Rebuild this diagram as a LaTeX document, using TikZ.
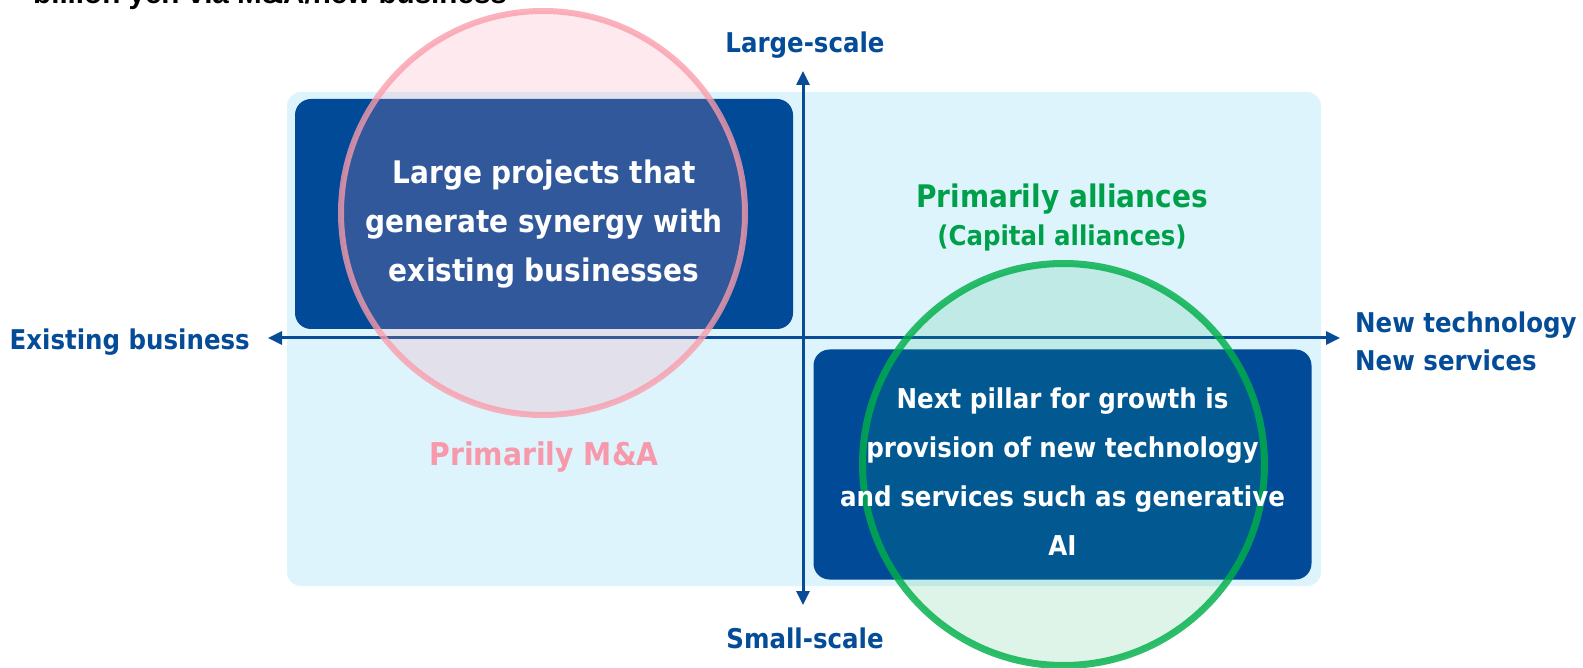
\documentclass[tikz,border=0pt]{standalone}
\usepackage{fontspec}
\usetikzlibrary{arrows.meta,calc}
\newfontfamily\labelfont{DejaVu Sans}[FakeStretch=0.9]
\newfontfamily\headfont{Liberation Sans}
\definecolor{boxblue}{RGB}{0,74,152}
\definecolor{panelblue}{RGB}{221,244,252}
\definecolor{axisblue}{RGB}{8,76,152}
\definecolor{textblue}{RGB}{4,76,152}
\definecolor{alliancegreen}{RGB}{0,160,75}
\definecolor{ringgreen}{RGB}{0,175,74}
\definecolor{fillgreen}{RGB}{20,180,100}
\definecolor{mapink}{RGB}{247,153,170}
\definecolor{ringpink}{RGB}{250,156,170}
\definecolor{fillpink}{RGB}{245,147,171}
\newcommand{\fsz}[2]{\fontsize{#1}{#2}\selectfont}
\tikzset{
  panel/.style={fill=panelblue, rounded corners=14pt, inner sep=0pt,
    minimum width=1034pt, minimum height=494pt},
  quadbox/.style={fill=boxblue, rounded corners=16pt, inner sep=0pt,
    minimum width=498pt, minimum height=230pt},
  axisline/.style={line width=3pt, draw=axisblue,
    {Triangle[length=14pt,width=13pt]}-{Triangle[length=14pt,width=13pt]}},
  axislabel/.style={text=textblue, font={\labelfont\bfseries\fsz{27.2}{38}},
    inner sep=0pt, align=left},
  bigtext/.style={text=white, font={\labelfont\bfseries\fsz{31.1}{49}},
    align=center, inner sep=0pt},
  smalltext/.style={text=white, font={\labelfont\bfseries\fsz{27.3}{49}},
    align=center, inner sep=0pt},
  pinkring/.style={draw=ringpink, draw opacity=0.78, line width=6pt,
    fill=fillpink, fill opacity=0.2},
  greenring/.style={draw=ringgreen, draw opacity=0.82, line width=7pt,
    fill=fillgreen, fill opacity=0.14},
}
\begin{document}
\begin{tikzpicture}[x=1pt, y=-1pt]
  \useasboundingbox (0,0) rectangle (1583,668);

  % heading line running off the top edge
  \node[anchor=base west, inner sep=0pt, font={\headfont\bfseries\fsz{29.6}{29}}]
    (head) at (33,4) {billion yen via M\&A/new business};

  % background panel and the two highlighted quadrants
  \node[panel] (panel) at (804,339) {};
  \node[quadbox] (tlbox) at (544,214) {};
  \node[quadbox] (brbox) at (1062.5,464.5) {};

  % axes
  \coordinate (xl) at (268,338);
  \coordinate (xr) at (1340,338);
  \coordinate (yt) at (803,71);
  \coordinate (yb) at (803,605);
  \draw[axisline] (xl) -- (xr);
  \draw[axisline] (yb) -- (yt);

  % axis labels
  \node[axislabel, anchor=base] (large) at (805,53) {Large-scale};
  \node[axislabel, anchor=base] (small) at (805,648) {Small-scale};
  \node[axislabel, anchor=base east] (exist) at (250,350) {Existing business};
  \node[axislabel, anchor=north west] (newtech) at (1355,312)
    {New technology\\New services};

  % circles
  \node[pinkring, circle, minimum size=404pt, inner sep=0pt] (macircle) at (543,213) {};
  \node[greenring, circle, minimum size=402pt, inner sep=0pt] (alcircle) at (1063.5,464.5) {};

  % quadrant texts
  \node[bigtext] (tltext) at ($(tlbox.center)+(0,10)$)
    {Large projects that\\generate synergy with\\existing businesses};
  \node[smalltext] (brtext) at ($(brbox.center)+(0,7.5)$)
    {Next pillar for growth is\\provision of new technology\\and services such as generative\\AI};

  % region captions
  \node[anchor=base, inner sep=0pt, text=alliancegreen,
    font={\labelfont\bfseries\fsz{31.1}{31}}] (alli) at (1062,208) {Primarily alliances};
  \node[anchor=base, inner sep=0pt, text=alliancegreen,
    font={\labelfont\bfseries\fsz{27.2}{27}}] (capi) at (1062,246) {(Capital alliances)};
  \node[anchor=base, inner sep=0pt, text=mapink,
    font={\labelfont\bfseries\fsz{31.4}{31}}] (mna) at (544,465) {Primarily M\&A};
\end{tikzpicture}
\end{document}
